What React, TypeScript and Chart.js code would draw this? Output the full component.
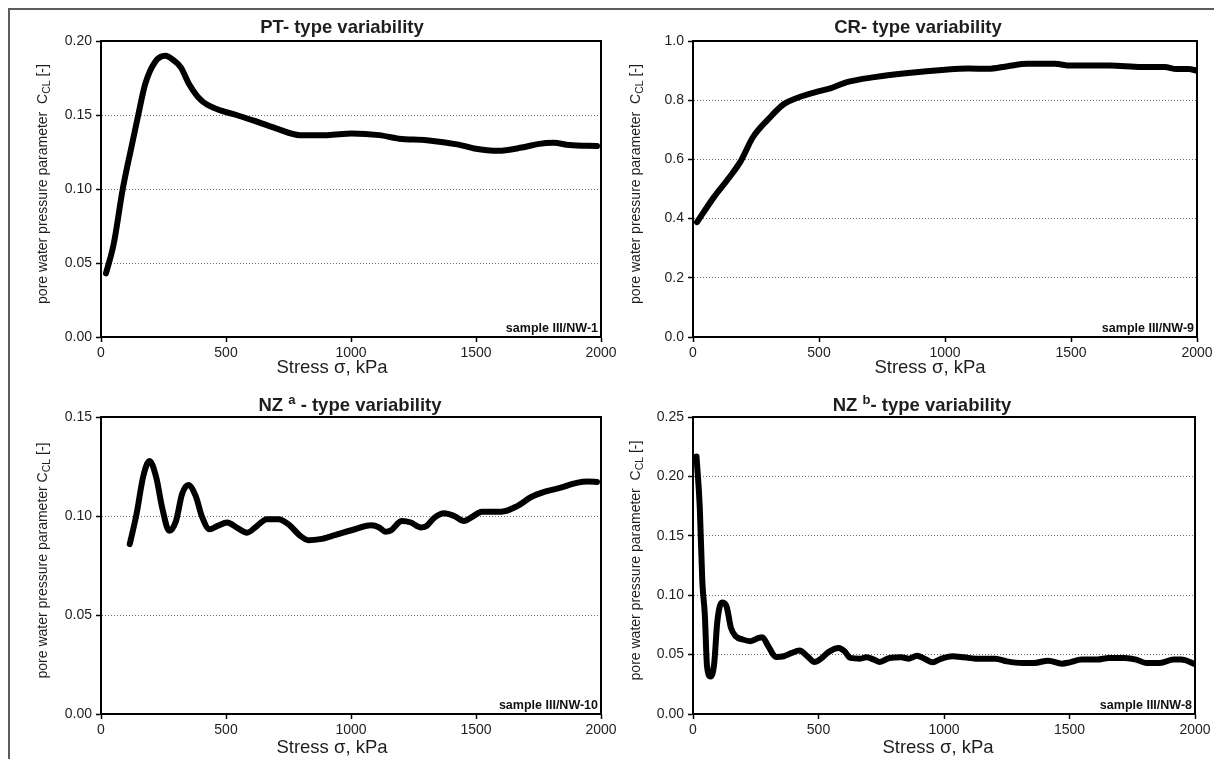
import React, { useEffect, useRef } from "react";
import { Chart, registerables } from "chart.js";

Chart.register(...registerables);

const FONT = '"Liberation Sans", Arial, Helvetica, sans-serif';
const TEXT = "#1e1e1e";

// ---------- data ----------
const xTickValues = [0, 500, 1000, 1500, 2000];

const ptStress = [20, 51, 87, 120, 149, 177, 217, 257, 290, 320, 352, 400, 463, 542, 605, 700, 796, 906, 1002, 1113, 1192, 1303, 1430, 1493, 1588, 1683, 1746, 1810, 1873, 1984];
const ptCcl = [0.043, 0.063, 0.1, 0.127, 0.15, 0.171, 0.186, 0.19, 0.187, 0.182, 0.171, 0.16, 0.154, 0.15, 0.1465, 0.141, 0.1364, 0.1364, 0.1375, 0.1364, 0.134, 0.133, 0.13, 0.1274, 0.1258, 0.128, 0.1303, 0.1312, 0.1297, 0.129];

const crStress = [16, 81, 143, 190, 237, 299, 361, 408, 486, 548, 611, 720, 844, 1000, 1093, 1171, 1249, 1327, 1436, 1498, 1654, 1779, 1872, 1919, 1966, 2000];
const crCcl = [0.388, 0.47, 0.538, 0.595, 0.674, 0.736, 0.787, 0.806, 0.827, 0.841, 0.861, 0.878, 0.891, 0.903, 0.907, 0.906, 0.915, 0.923, 0.923, 0.917, 0.917, 0.912, 0.912, 0.905, 0.905, 0.9];

const nzaStress = [115, 142, 169, 194, 221, 245, 273, 300, 324, 349, 379, 403, 434, 466, 505, 545, 584, 624, 663, 710, 750, 797, 829, 876, 939, 1002, 1081, 1113, 1137, 1160, 1203, 1240, 1279, 1302, 1334, 1373, 1413, 1452, 1484, 1523, 1602, 1665, 1721, 1776, 1839, 1902, 1949, 1984];
const nzaCcl = [0.0858, 0.1009, 0.12, 0.1278, 0.1194, 0.104, 0.0925, 0.0975, 0.111, 0.1157, 0.11, 0.1, 0.0933, 0.095, 0.0967, 0.094, 0.0916, 0.095, 0.0984, 0.0984, 0.0958, 0.09, 0.0878, 0.0883, 0.0905, 0.0928, 0.0953, 0.0942, 0.0921, 0.0928, 0.0975, 0.0967, 0.0942, 0.095, 0.0992, 0.1014, 0.1, 0.0975, 0.0995, 0.1022, 0.1022, 0.105, 0.1096, 0.1123, 0.1143, 0.1167, 0.1174, 0.1172];

const nzbStress = [14, 27, 37, 47, 56, 70, 84, 97, 115, 133, 151, 170, 198, 229, 261, 276, 300, 331, 362, 393, 424, 456, 484, 510, 541, 580, 604, 627, 666, 690, 721, 744, 783, 830, 861, 892, 924, 955, 986, 1033, 1080, 1126, 1204, 1251, 1313, 1360, 1415, 1470, 1501, 1548, 1610, 1657, 1720, 1766, 1805, 1860, 1915, 1945, 2000];
const nzbCcl = [0.2167, 0.174, 0.112, 0.084, 0.04, 0.0316, 0.0415, 0.078, 0.0938, 0.091, 0.0726, 0.0655, 0.0627, 0.0613, 0.064, 0.0647, 0.057, 0.048, 0.0486, 0.0514, 0.0534, 0.0486, 0.0438, 0.0466, 0.0523, 0.0556, 0.0528, 0.0472, 0.0466, 0.0477, 0.0458, 0.0438, 0.0472, 0.0477, 0.0466, 0.049, 0.0463, 0.0435, 0.0463, 0.0486, 0.0477, 0.0466, 0.0466, 0.0443, 0.043, 0.043, 0.0449, 0.0424, 0.0435, 0.0458, 0.0458, 0.0472, 0.0472, 0.0458, 0.043, 0.043, 0.0458, 0.0458, 0.042];

const titleMains = ["PT- type variability", "CR- type variability", "NZ ", "NZ "];
const titleSups = ["", "", "a", "b"];
const titleRests = ["", "", " - type variability", "- type variability"];
const sampleLabels = ["sample III/NW-1", "sample III/NW-9", "sample III/NW-10", "sample III/NW-8"];
const yMaxes = [0.2, 1.0, 0.15, 0.25];
const ySteps = [0.05, 0.2, 0.05, 0.05];
const yDecimals = [2, 1, 2, 2];
const xAxisTitle = "Stress \u03c3, kPa";
const yAxisTitleMains = ["pore water pressure parameter  C", "pore water pressure parameter  C", "pore water pressure parameter C", "pore water pressure parameter  C"];
const yAxisTitleSub = "CL";
const yAxisTitleEnd = " [-]";

// ---------- layout (page pixel coordinates) ----------
type Rect = { l: number; t: number; r: number; b: number };
const canvasRects: Rect[] = [
  { l: 12, t: 12, r: 630, b: 385 },
  { l: 612, t: 12, r: 1214, b: 385 },
  { l: 12, t: 385, r: 630, b: 759 },
  { l: 612, t: 385, r: 1214, b: 759 },
];
const plotRects: Rect[] = [
  { l: 101, t: 41, r: 601, b: 337 },
  { l: 693, t: 41, r: 1197, b: 337 },
  { l: 101, t: 417, r: 601, b: 714 },
  { l: 693, t: 417, r: 1195, b: 714 },
];
const titleCx = [342, 918, 350, 922];
const titleCy = [28, 28, 406, 406];
const xTitleCx = [332, 930, 332, 938];
const xTitleCy = [368, 368, 748, 748];
const yTitleCx = [43, 636, 43, 636];

const seriesX = [ptStress, crStress, nzaStress, nzbStress];
const seriesY = [ptCcl, crCcl, nzaCcl, nzbCcl];

function makeTextPlugin(i: number) {
  const c = canvasRects[i];
  const p = plotRects[i];
  return {
    id: "panelText" + i,
    afterDraw(chart: any) {
      const ctx: CanvasRenderingContext2D = chart.ctx;
      const ca = chart.chartArea;
      ctx.save();
      // frame
      ctx.strokeStyle = "#000";
      ctx.lineWidth = 2;
      ctx.strokeRect(ca.left, ca.top, ca.right - ca.left, ca.bottom - ca.top);

      ctx.fillStyle = TEXT;
      // title
      const tx = titleCx[i] - c.l;
      const ty = titleCy[i] - c.t;
      ctx.textBaseline = "middle";
      const bold = `bold 18.5px ${FONT}`;
      const supFont = `bold 13px ${FONT}`;
      ctx.font = bold;
      const w1 = ctx.measureText(titleMains[i]).width;
      const w3 = titleRests[i] ? ctx.measureText(titleRests[i]).width : 0;
      ctx.font = supFont;
      const w2 = titleSups[i] ? ctx.measureText(titleSups[i]).width : 0;
      let x = tx - (w1 + w2 + w3) / 2;
      ctx.textAlign = "left";
      ctx.font = bold;
      ctx.fillText(titleMains[i], x, ty);
      x += w1;
      if (titleSups[i]) {
        ctx.font = supFont;
        ctx.fillText(titleSups[i], x, ty - 6);
        x += w2;
      }
      if (titleRests[i]) {
        ctx.font = bold;
        ctx.fillText(titleRests[i], x, ty);
      }

      // x axis title
      ctx.font = `18.5px ${FONT}`;
      ctx.textAlign = "center";
      ctx.fillText(xAxisTitle, xTitleCx[i] - c.l, xTitleCy[i] - c.t);

      // y axis title (rotated, with subscript)
      const yc = (p.t + p.b) / 2 - 5 - c.t;
      const xc = yTitleCx[i] - c.l;
      ctx.save();
      ctx.translate(xc, yc);
      ctx.rotate(-Math.PI / 2);
      ctx.textAlign = "left";
      ctx.textBaseline = "middle";
      const mainF = `14px ${FONT}`;
      const subF = `10.5px ${FONT}`;
      ctx.font = mainF;
      const a1 = ctx.measureText(yAxisTitleMains[i]).width;
      const a3 = ctx.measureText(yAxisTitleEnd).width;
      ctx.font = subF;
      const a2 = ctx.measureText(yAxisTitleSub).width;
      let yx = -(a1 + a2 + a3) / 2;
      ctx.font = mainF;
      ctx.fillText(yAxisTitleMains[i], yx, 0);
      yx += a1;
      ctx.font = subF;
      ctx.fillText(yAxisTitleSub, yx, 4);
      yx += a2;
      ctx.font = mainF;
      ctx.fillText(yAxisTitleEnd, yx, 0);
      ctx.restore();

      // sample label
      ctx.font = `bold 12.5px ${FONT}`;
      ctx.textAlign = "right";
      ctx.textBaseline = "alphabetic";
      ctx.fillStyle = "#111";
      ctx.fillText(sampleLabels[i], ca.right - 3, ca.bottom - 5);
      ctx.restore();
    },
  };
}

function Panel({ i }: { i: number }) {
  const ref = useRef<HTMLCanvasElement | null>(null);
  useEffect(() => {
    const canvas = ref.current;
    if (!canvas) return;
    const c = canvasRects[i];
    const p = plotRects[i];
    const yMax = yMaxes[i];
    const data = seriesX[i].map((x, k) => ({ x, y: seriesY[i][k] }));
    const chart = new Chart(canvas, {
      type: "line",
      data: {
        datasets: [
          {
            data,
            borderColor: "#000",
            borderWidth: 6,
            pointRadius: 0,
            fill: false,
            cubicInterpolationMode: "monotone",
            borderCapStyle: "round",
            borderJoinStyle: "round",
          } as any,
        ],
      },
      options: {
        responsive: false,
        animation: false,
        events: [],
        devicePixelRatio: 1,
        layout: {
          padding: { left: 0, top: p.t - c.t, right: c.r - p.r, bottom: 0 },
        },
        plugins: {
          legend: { display: false },
          title: { display: false },
          tooltip: { enabled: false },
        },
        scales: {
          x: {
            type: "linear",
            min: 0,
            max: 2000,
            afterBuildTicks: (s: any) => {
              s.ticks = xTickValues.map((v) => ({ value: v }));
            },
            ticks: {
              autoSkip: false,
              maxRotation: 0,
              color: TEXT,
              font: { family: FONT, size: 14 },
              padding: 3,
              callback: (v: any) => String(v),
            },
            grid: {
              display: true,
              drawOnChartArea: false,
              drawTicks: true,
              tickLength: 5,
              tickColor: "#000",
              tickWidth: 1.5,
            },
            border: { display: true, color: "#000", width: 2 },
            afterFit: (s: any) => {
              s.height = c.b - p.b;
              s.paddingLeft = 0;
              s.paddingRight = 0;
            },
          },
          y: {
            type: "linear",
            min: 0,
            max: yMax,
            ticks: {
              stepSize: ySteps[i],
              color: TEXT,
              font: { family: FONT, size: 14 },
              padding: 4,
              callback: (v: any) => Number(v).toFixed(yDecimals[i]),
            },
            grid: {
              display: true,
              drawOnChartArea: true,
              color: (ctx: any) => {
                const v = ctx.tick ? ctx.tick.value : 0;
                if (v <= 1e-9 || v >= yMax - 1e-9) return "rgba(0,0,0,0)";
                return "#6e6e6e";
              },
              lineWidth: 1,
              drawTicks: true,
              tickLength: 5,
              tickColor: "#000",
              tickWidth: 1.5,
            },
            border: { display: true, color: "#000", width: 2, dash: [1, 2] },
            afterFit: (s: any) => {
              s.width = p.l - c.l;
              s.paddingTop = 0;
              s.paddingBottom = 0;
            },
          },
        },
      } as any,
      plugins: [makeTextPlugin(i)],
    });
    return () => chart.destroy();
  }, [i]);
  const c = canvasRects[i];
  return (
    <canvas
      ref={ref}
      width={c.r - c.l}
      height={c.b - c.t}
      style={{
        position: "absolute",
        left: c.l,
        top: c.t,
        width: c.r - c.l,
        height: c.b - c.t,
      }}
    />
  );
}

export default function App() {
  return (
    <div
      style={{
        position: "fixed",
        left: 0,
        top: 0,
        width: 1214,
        height: 759,
        overflow: "hidden",
        background: "#fff",
      }}
    >
      <div
        style={{
          position: "absolute",
          left: 8,
          top: 8,
          width: 1206,
          height: 751,
          boxSizing: "border-box",
          borderTop: "2px solid #5c5c5c",
          borderLeft: "2px solid #5c5c5c",
        }}
      />
      {[0, 1, 2, 3].map((i) => (
        <Panel key={i} i={i} />
      ))}
    </div>
  );
}
